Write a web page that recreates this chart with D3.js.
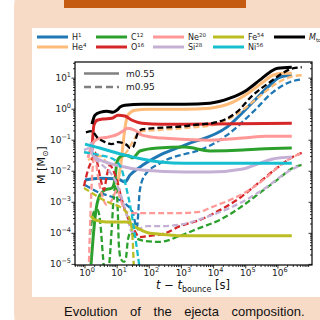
<!DOCTYPE html>
<html><head><meta charset="utf-8">
<script src="https://cdn.jsdelivr.net/npm/d3@7"></script>
<style>
html,body{margin:0;padding:0;background:#fff;}
svg{display:block;font-family:"DejaVu Sans",sans-serif;}
</style>
</head><body>
<svg id="chart" width="320" height="320"></svg>
<script>
// Ejecta composition: mass of each species vs time since bounce, two models.
// Each series is a list of [t (s), M (Msun)].
const h1Solid = [[1.0,5.2e-3],[2.9,6.0e-3],[10.6,5.6e-3],[17.5,4.5e-3],[25,7.5e-3],[51,0.0136],[214,0.033],[1276,0.070],[2.6e4,0.264],[1.65e5,1.68],[5.6e5,5.9],[1.14e6,10.7],[2.7e6,12.4]];
const h1Dashed = [[1.0,3.6e-3],[2.9,2.0e-3],[8.5,1.38e-3],[20,8.2e-4],[31,4.5e-4],[41,1.5e-4],[51,2.5e-3],[73,7.5e-3],[214,0.018],[1276,0.036],[2260,0.041],[2.6e4,0.146],[1.65e5,0.80],[6.9e5,3.5],[2.3e6,7.4],[5.5e6,9.2]];
const he4Solid = [[9.9,3.6e-3],[13,0.016],[17.5,0.245],[21.6,0.64],[35.7,0.93],[90,1.0],[1276,1.0],[7600,1.08],[4e4,1.68],[1.3e5,3.5],[3.4e5,7.4],[6.9e5,12.4],[1.4e6,14.4],[2.7e6,14.4]];
const he4Dashed = [[1.24,0.023],[2.9,0.031],[6.0,0.016],[12.2,0.023],[21.6,0.048],[35.7,0.117],[59,0.196],[149,0.21],[1276,0.245],[1.26e4,0.33],[5.25e4,0.69],[2.7e5,2.6],[9.3e5,6.9],[2.9e6,11.5],[5.5e6,12.4]];
const c12Solid = [[1.54,1e-5],[1.77,6.2e-5],[2.2,5.6e-4],[2.9,1.7e-3],[4.2,2.5e-3],[6.9,2.9e-3],[8.5,5.2e-3],[9.9,0.02],[12.2,0.029],[17.5,0.033],[23.3,0.031],[31,0.027],[51,0.045],[185,0.056],[1276,0.060],[7600,0.045],[8.1e4,0.048],[2.7e5,0.052],[2.7e6,0.056]];
const c12Dashed = [[1.43,8.9e-5],[1.9,4.9e-4],[2.5,5.6e-4],[3.1,1.5e-4],[3.6,2.0e-5],[4.2,4.6e-6],[5.2,4.6e-6],[6.0,2.0e-5],[6.9,1.9e-4],[7.9,1.7e-3],[9.2,3.6e-3],[10.6,3.9e-4],[11.3,4.3e-5],[13,1.5e-5],[16.2,1.2e-5],[18.8,1.6e-5],[21.6,6.2e-5],[26.8,1.1e-4],[38,7.1e-5],[73,5.7e-5],[214,5.3e-5],[890,8.3e-5],[3.7e3,1.5e-4],[1.55e4,2.7e-4],[6.5e4,6.6e-4],[2.7e5,2.0e-3],[9.3e5,5.2e-3],[2.9e6,0.0127],[5.5e6,0.016]];
const o16Solid = [[1.65,0.048],[1.9,0.306],[2.36,0.44],[3.6,0.48],[6.9,0.51],[10.6,0.64],[17.5,0.6],[29,0.44],[59,0.355],[245,0.33],[1276,0.33],[2.7e6,0.355]];
const o16Dashed = [[0.93,3.3e-3],[1.24,0.011],[1.65,0.023],[2.04,0.041],[2.5,0.016],[3.1,5.2e-3],[3.9,2.5e-3],[4.8,7.5e-3],[6.0,0.016],[7.4,0.011],[9.9,5.2e-3],[14,1.18e-3],[20,3.9e-4],[31,1.5e-4],[51,7.6e-5],[105,8.3e-5],[305,1.0e-4],[890,1.7e-4],[3.7e3,2.7e-4],[1.55e4,5.6e-4],[6.5e4,1.38e-3],[2.7e5,4.5e-3],[9.3e5,0.0127],[2.9e6,0.029],[5.5e6,0.039]];
const ne20Solid = [[1.24,0.027],[1.65,0.069],[2.36,0.108],[5.2,0.126],[10.6,0.158],[15.1,0.196],[21.6,0.245],[35.7,0.21],[59,0.146],[245,0.117],[7600,0.1],[8.1e4,0.117],[4.5e5,0.135],[2.7e6,0.135]];
const ne20Dashed = [[1.33,1.2e-5],[1.54,1.18e-3],[1.77,0.016],[2.04,0.033],[2.5,7.5e-3],[3.4,1.7e-3],[4.8,8.2e-4],[6.9,1.18e-3],[9.9,2.5e-3],[13,1.18e-3],[18.8,4.9e-4],[35.7,4.5e-4],[214,4.5e-4],[890,4.5e-4],[3.7e3,4.9e-4],[7.6e3,6.6e-4],[3.2e4,1.18e-3],[1.3e5,2.5e-3],[4.5e5,6.5e-3],[1.4e6,0.018],[3.8e6,0.033],[5.5e6,0.039]];
const si28Solid = [[1.54,0.087],[1.77,0.033],[2.2,0.027],[4.2,0.020],[12.2,0.0147],[59,0.011],[1276,9.4e-3],[7600,9.4e-3],[8.1e4,0.0118],[2.7e5,0.018],[6.9e5,0.025],[2.7e6,0.029]];
const si28Dashed = [[0.93,0.048],[1.43,0.056],[2.04,0.027],[3.4,0.016],[6.0,9.4e-3],[9.2,4.5e-3],[14,1.38e-3],[20,3.9e-4],[29,1.1e-4],[44,1.3e-4],[84,1.7e-4],[214,1.7e-4],[890,1.9e-4],[6.2e3,3.4e-4],[3.2e4,6.6e-4],[1.3e5,1.38e-3],[4.5e5,3.1e-3],[1.4e6,7.5e-3],[3.8e6,0.0136],[5.5e6,0.016]];
const fe54Solid = [[1.54,3.6e-4],[2.04,2.7e-4],[4.8,2.3e-4],[20,2.3e-4],[41,1.5e-4],[105,1.0e-4],[436,8.9e-5],[890,8.3e-5],[2.7e6,8.3e-5]];
const fe54Dashed = [[0.93,2.9e-3],[1.65,2.0e-3],[2.9,1.38e-3],[6.0,9.5e-4],[12.2,7.1e-4],[20,4.5e-4],[27,1.9e-4],[31,4.3e-5],[33,7.7e-6]];
const ni56Solid = [[1.0,0.075],[2.9,0.056],[6.0,0.045],[17.5,0.033],[59,0.025],[214,0.020],[1276,0.018],[2.7e6,0.018]];
const ni56Dashed = [[0.93,0.041],[2.9,0.033],[8.5,0.023],[14,0.011],[20,2.5e-3],[27,5.6e-4],[35.7,8.9e-5],[44,2.0e-5],[51,6.6e-6]];
const mtotSolid = [[1.65,0.33],[2.04,0.64],[3.1,0.80],[4.8,0.86],[7.4,0.80],[9.9,0.93],[12.2,1.16],[17.5,1.35],[59,1.45],[1276,1.45],[7600,1.56],[3.2e4,2.26],[1.07e5,4.1],[2.7e5,8.6],[5.6e5,15.5],[9.8e5,20.8],[2.7e6,22.4]];
const mtotDashed = [[1.07,0.18],[1.65,0.196],[2.36,0.126],[4.2,0.087],[6.9,0.075],[10.6,0.087],[15.1,0.081],[20,0.070],[25,0.056],[31,0.060],[44,0.169],[63,0.227],[149,0.245],[1276,0.284],[2260,0.306],[1.26e4,0.38],[5.25e4,0.80],[1.65e5,2.82],[5.6e5,7.4],[1.4e6,14.4],[2.9e6,20.8],[5.5e6,22.4]];

// Legend entries: [base, superscript, subscript]
const speciesLabels = [["H","1",""],["He","4",""],["C","12",""],["O","16",""],["Ne","20",""],["Si","28",""],["Fe","54",""],["Ni","56",""],["M","","tot"]];
const speciesColors = ["#1f77b4","#ffbb78","#2ca02c","#d62728","#ff9896","#c5b0d5","#bcbd22","#17becf","#000000"];
const solidSeries = [h1Solid,he4Solid,c12Solid,o16Solid,ne20Solid,si28Solid,fe54Solid,ni56Solid,mtotSolid];
const dashedSeries = [h1Dashed,he4Dashed,c12Dashed,o16Dashed,ne20Dashed,si28Dashed,fe54Dashed,ni56Dashed,mtotDashed];
const modelLabels = ["m0.55","m0.95"];
const xTickValues = [1,10,100,1e3,1e4,1e5,1e6];
const yTickValues = [1e-5,1e-4,1e-3,1e-2,1e-1,1,10];
const captionText = "Evolution of the ejecta composition.";

const svg = d3.select("#chart");

// Page backdrop: peach card, header tab, white figure panel
svg.append("rect").attr("x",14).attr("y",-40).attr("width",360).attr("height",400)
  .attr("rx",48).attr("fill","#f8dbc7");
svg.append("rect").attr("x",64).attr("y",0).attr("width",182).attr("height",8).attr("fill","#c55a11");
svg.append("rect").attr("x",32).attr("y",28).attr("width",300).attr("height",269).attr("fill","#ffffff");

// Plot area
const L=75, R=312, T=62, B=265;
const x = d3.scaleLog().domain([Math.pow(10,-0.31), Math.pow(10,7.06)]).range([L,R]);
const y = d3.scaleLog().domain([Math.pow(10,-5.02), Math.pow(10,1.52)]).range([B,T]);

svg.append("clipPath").attr("id","plotclip").append("rect")
  .attr("x",L).attr("y",T).attr("width",R-L).attr("height",B-T);

const line = d3.line().x(d=>x(d[0])).y(d=>y(d[1])).curve(d3.curveMonotoneX);
const plot = svg.append("g").attr("clip-path","url(#plotclip)");

speciesColors.forEach((c,i)=>{
  plot.append("path").attr("d",line(solidSeries[i])).attr("fill","none")
    .attr("stroke",c).attr("stroke-width",3).attr("stroke-linejoin","round").attr("stroke-linecap","butt");
  plot.append("path").attr("d",line(dashedSeries[i])).attr("fill","none")
    .attr("stroke",c).attr("stroke-width",2.3).attr("stroke-dasharray","6,3");
});

// Minor ticks
function minorTicks(domain){
  const out=[]; const lo=Math.floor(Math.log10(domain[0])), hi=Math.ceil(Math.log10(domain[1]));
  for(let e=lo;e<=hi;e++) for(let k=2;k<=9;k++){const v=k*Math.pow(10,e); if(v>=domain[0]&&v<=domain[1]) out.push(v);}
  return out;
}
const axG = svg.append("g").attr("stroke","#000").attr("stroke-width",0.8);
minorTicks(x.domain()).forEach(v=>{axG.append("line").attr("x1",x(v)).attr("x2",x(v)).attr("y1",B).attr("y2",B+2);});
minorTicks(y.domain()).forEach(v=>{
  axG.append("line").attr("x1",L-2).attr("x2",L).attr("y1",y(v)).attr("y2",y(v));
  axG.append("line").attr("x1",R).attr("x2",R-2).attr("y1",y(v)).attr("y2",y(v));
});
xTickValues.forEach(v=>{axG.append("line").attr("x1",x(v)).attr("x2",x(v)).attr("y1",B).attr("y2",B+3.5);});
yTickValues.forEach(v=>{
  axG.append("line").attr("x1",L-3.5).attr("x2",L).attr("y1",y(v)).attr("y2",y(v));
  axG.append("line").attr("x1",R).attr("x2",R-3.5).attr("y1",y(v)).attr("y2",y(v));
});
svg.append("rect").attr("x",L).attr("y",T).attr("width",R-L).attr("height",B-T)
  .attr("fill","none").attr("stroke","#000").attr("stroke-width",1.2);

// Tick labels as powers of ten
function powLabel(g, v, px, py, anchor){
  const e = Math.round(Math.log10(v));
  const t = g.append("text").attr("x",px).attr("y",py).attr("text-anchor",anchor)
    .attr("font-size",9).attr("fill","#222");
  t.append("tspan").text("10");
  t.append("tspan").attr("dy",-4).attr("font-size",6.5).text(e<0?"\u2212"+(-e):String(e));
}
xTickValues.forEach(v=>powLabel(svg,v,x(v)+2,276,"middle"));
yTickValues.forEach(v=>powLabel(svg,v,71,y(v)+3,"end"));

// Axis titles
const xt = svg.append("text").attr("x",193).attr("y",289).attr("text-anchor","middle")
  .attr("font-size",11.5).attr("fill","#111");
xt.append("tspan").attr("font-style","italic").text("t");
xt.append("tspan").text(" \u2212 ");
xt.append("tspan").attr("font-style","italic").text("t");
xt.append("tspan").attr("font-size",8).attr("dy",2.5).text("bounce");
xt.append("tspan").attr("dy",-2.5).text(" [s]");

const yt = svg.append("text").attr("transform","translate(45,165) rotate(-90)")
  .attr("text-anchor","middle").attr("font-size",11).attr("fill","#111");
yt.append("tspan").text("M [M");
yt.append("tspan").attr("font-size",8).attr("dy",2.5).text("\u2299");
yt.append("tspan").attr("dy",-2.5).text("]");

// Model legend inside the axes
const modelDash = [null,"7,4"];
modelLabels.forEach((lab,i)=>{
  const yy = 73.5 + i*13.5;
  svg.append("line").attr("x1",84).attr("x2",119).attr("y1",yy).attr("y2",yy)
    .attr("stroke","#808080").attr("stroke-width",2.4).attr("stroke-dasharray",modelDash[i]);
  svg.append("text").attr("x",126).attr("y",yy+3.2).attr("font-size",9).attr("fill","#222").text(lab);
});

// Species legend above the axes
const colX = [37,96,153,213,274];
speciesLabels.forEach((lab,k)=>{
  const cx = colX[Math.floor(k/2)], cy = 37 + (k%2)*10;
  svg.append("line").attr("x1",cx).attr("x2",cx+31).attr("y1",cy).attr("y2",cy)
    .attr("stroke",speciesColors[k]).attr("stroke-width",3);
  const t = svg.append("text").attr("x",cx+35).attr("y",cy+3).attr("font-size",8).attr("fill","#222");
  if(lab[2]){
    t.append("tspan").attr("font-style","italic").text(lab[0]);
    t.append("tspan").attr("font-size",5.5).attr("dy",2).text(lab[2]);
  } else {
    t.append("tspan").text(lab[0]);
    t.append("tspan").attr("font-size",5.5).attr("dy",-3.5).text(lab[1]);
  }
});

// Caption
svg.append("text").attr("x",64).attr("y",316).attr("font-family","'Liberation Sans',Arial,sans-serif")
  .attr("font-size",13).attr("fill","#111").attr("word-spacing",9).text(captionText);
</script>
</body></html>
